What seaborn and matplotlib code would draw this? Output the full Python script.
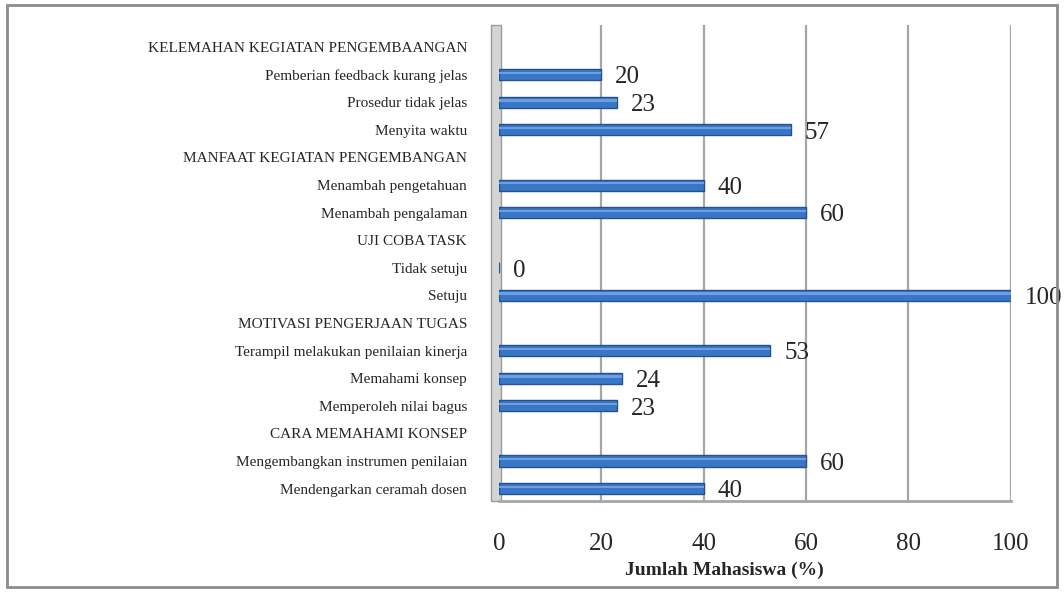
import numpy as np
import pandas as pd
import seaborn as sns
import matplotlib.pyplot as plt
from matplotlib.patches import Rectangle

# kategori dari atas ke bawah (judul kelompok tidak punya nilai)
labels = [
    'KELEMAHAN KEGIATAN PENGEMBAANGAN',
    'Pemberian feedback kurang jelas',
    'Prosedur tidak jelas',
    'Menyita waktu',
    'MANFAAT KEGIATAN PENGEMBANGAN',
    'Menambah pengetahuan',
    'Menambah pengalaman',
    'UJI COBA TASK',
    'Tidak setuju',
    'Setuju',
    'MOTIVASI PENGERJAAN TUGAS',
    'Terampil melakukan penilaian kinerja',
    'Memahami konsep',
    'Memperoleh nilai bagus',
    'CARA MEMAHAMI KONSEP',
    'Mengembangkan instrumen penilaian',
    'Mendengarkan ceramah dosen',
]
values = [None, 20, 23, 57, None, 40, 60, None, 0, 100, None, 53, 24, 23, None, 60, 40]
x_ticks = [0, 20, 40, 60, 80, 100]

sns.set_style('white')
plt.rcParams['font.family'] = ['Liberation Serif', 'DejaVu Serif']

df = pd.DataFrame({'kategori': labels, 'jumlah': values}).dropna()

fig = plt.figure(figsize=(10.64, 5.92), dpi=100)
ax = fig.add_axes([0.469, 0.1537, 0.481, 0.804])

sns.barplot(data=df, x='jumlah', y='kategori', order=labels, orient='h',
            color='#3a76c6', saturation=1, edgecolor='#23528f', linewidth=1,
            width=0.4, ax=ax)

# kilap tipis supaya batang tampak seperti silinder
for p in list(ax.patches):
    ax.add_patch(Rectangle((p.get_x(), p.get_y() + p.get_height() * 0.22),
                           p.get_width(), p.get_height() * 0.22,
                           color='#6d9fe0', lw=0, zorder=p.get_zorder() + 0.1))

for cat, v in zip(df['kategori'], df['jumlah']):
    pos = labels.index(cat)
    ax.annotate(f'{v:g}', (v, pos), xytext=(10, -2), textcoords='offset points',
                ha='left', va='center', fontsize=18, annotation_clip=False)

ax.set_xlim(0, 100)
ax.set_ylim(16.45, -0.8)
ax.set_xticks(x_ticks)

for t in x_ticks[1:]:
    ax.axvline(t, color='#a6a6a6', lw=1.6, zorder=0)
wall = ax.axvspan(-1.6, 0.4, facecolor='#d4d4d4', edgecolor='#9a9a9a', lw=1, zorder=0)
wall.set_clip_on(False)

for s in ['top', 'right', 'left']:
    ax.spines[s].set_visible(False)
ax.spines['bottom'].set_color('#a6a6a6')
ax.spines['bottom'].set_linewidth(2)

ax.tick_params(axis='x', length=5, width=1.6, color='#a6a6a6', labelsize=18, pad=18)
ax.tick_params(axis='y', length=0, labelsize=11, pad=23)

ax.set_ylabel('')
ax.set_xlabel('Jumlah Mahasiswa (%)', fontsize=14, fontweight='bold')
ax.xaxis.set_label_coords(0.44, -0.145)
ax.xaxis.label.set_va('center')

fig.patches.append(Rectangle((0.007, 0.008), 0.986, 0.984, transform=fig.transFigure,
                             fill=False, edgecolor='#8c8c8c', lw=2))

fig.savefig('out.png', dpi=100)
